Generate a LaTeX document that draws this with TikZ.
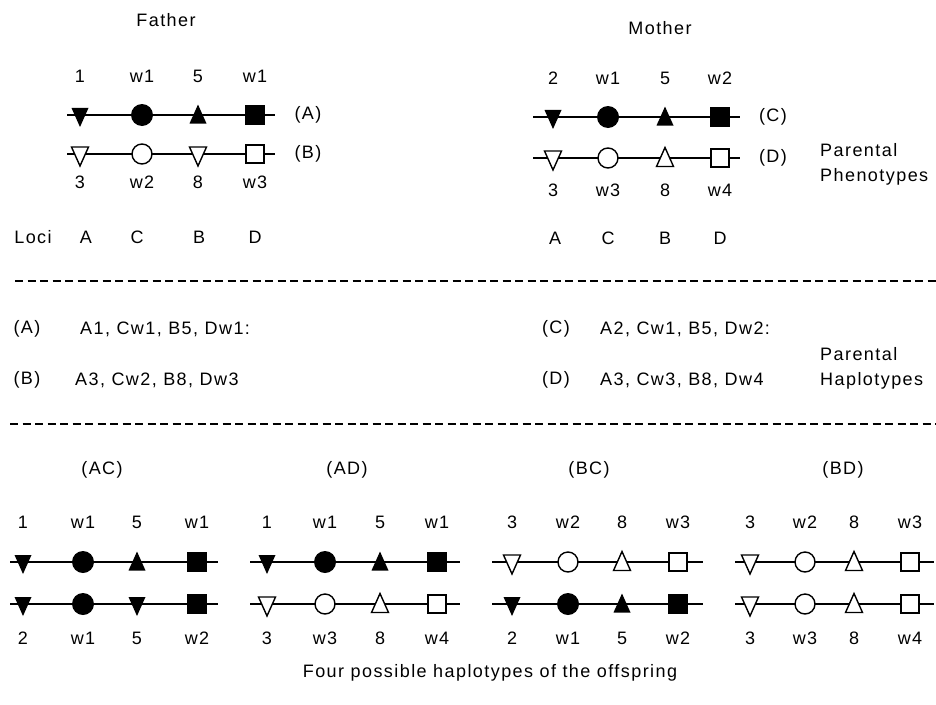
\documentclass[tikz,border=0pt]{standalone}
\usepackage{fontspec}
\setmainfont{Liberation Sans}[LetterSpace=8]
\usepackage{tikz}
\usetikzlibrary{positioning, shapes, calc}

%% one chromosome: name, y, x start, x end, symbols (x/style), line style
\newcommand{\chromo}[6]{%
  \coordinate (#1s) at (#3,#2);
  \coordinate (#1e) at (#4,#2);
  \draw[#6] (#1s) -- (#1e);
  \foreach \x/\s [count=\i] in {#5} \node[\s] (#1\i) at (\x,#2) {};
}
%% one row of labels: name, y, labels (x/text)
\newcommand{\labrow}[3]{%
  \foreach \x/\t [count=\i] in {#3} \node[lab] (#1\i) at (\x,#2) {\t};
}

\begin{document}
\begin{tikzpicture}[x=1pt, y=-1pt]
		\tikzstyle{lab}=[inner sep=0pt, text=black, font=\fontsize{18}{25}\selectfont]
		\tikzstyle{thk}=[line width=2.8pt]
		\tikzstyle{thn}=[line width=1.6pt]
		\tikzstyle{sep}=[line width=2pt, dash pattern=on 8pt off 4.5pt]
		
		\tikzstyle{cf}=[circle, fill=black, minimum size=22pt, inner sep=0pt]
		\tikzstyle{co}=[circle, draw=black, line width=1.4pt, fill=white, minimum size=20pt, inner sep=0pt]
		\tikzstyle{sf}=[rectangle, fill=black, minimum size=20pt, inner sep=0pt]
		\tikzstyle{so}=[rectangle, draw=black, line width=1.4pt, fill=white, minimum size=18pt, inner sep=0pt]
		\tikzstyle{tri}=[isosceles triangle, isosceles triangle stretches, minimum width=17pt, minimum height=19pt, inner sep=0pt]
		\tikzstyle{tuf}=[tri, shape border rotate=90, fill=black, yshift=-3pt]
		\tikzstyle{tdf}=[tri, shape border rotate=270, fill=black, yshift=1.5pt]
		\tikzstyle{tuo}=[tri, shape border rotate=90, draw=black, line width=1.4pt, fill=white, yshift=-3pt]
		\tikzstyle{tdo}=[tri, shape border rotate=270, draw=black, line width=1.4pt, fill=white, yshift=1.5pt]
		
		\useasboundingbox (0,0) rectangle (936,704);
		
		%% parents
		\node[lab] (father) at (166,20) {Father};
		\node[lab] (mother) at (660,28) {Mother};
		
		\labrow{ftop}{76}{80/1,142/w1,198/5,255/w1}
		\chromo{fA}{115}{67}{275}{80/tdf,142/cf,198/tuf,255/sf}{thk}
		\chromo{fB}{154}{67}{275}{80/tdo,142/co,198/tdo,255/so}{thn}
		\labrow{fbot}{182}{80/3,142/w2,198/8,255/w3}
		\node[lab] (hA) at (308,115) {(A)};
		\node[lab] (hB) at (308,154) {(B)};
		\node[lab] (loci) at (33,237) {Loci};
		\labrow{floc}{237}{86/A,137/C,199/B,255/D}
		
		\labrow{mtop}{78}{553/2,608/w1,665/5,720/w2}
		\chromo{mC}{117}{533}{740}{553/tdf,608/cf,665/tuf,720/sf}{thk}
		\chromo{mD}{158}{533}{740}{553/tdo,608/co,665/tuo,720/so}{thn}
		\labrow{mbot}{190}{553/3,608/w3,665/8,720/w4}
		\node[lab] (hC) at (773,117) {(C)};
		\node[lab] (hD) at (773,158) {(D)};
		\labrow{mloc}{238}{555/A,608/C,665/B,720/D}
		\node[lab, anchor=west, align=left] (pheno) at (820,164) {Parental\\Phenotypes};
		
		\coordinate (s1a) at (15,281);
		\coordinate (s1b) at (936,281);
		\draw[sep] (s1a) -- (s1b);
		
		%% haplotypes
		\node[lab] (tA) at (27,329) {(A)};
		\node[lab, anchor=west] (xA) at (80,329) {A1, Cw1, B5, Dw1:};
		\node[lab] (tB) at (27,380) {(B)};
		\node[lab, anchor=west] (xB) at (75,380) {A3, Cw2, B8, Dw3};
		\node[lab] (tC) at (556,329) {(C)};
		\node[lab, anchor=west] (xC) at (600,329) {A2, Cw1, B5, Dw2:};
		\node[lab] (tD) at (556,380) {(D)};
		\node[lab, anchor=west] (xD) at (600,380) {A3, Cw3, B8, Dw4};
		\node[lab, anchor=west, align=left] (haplo) at (820,368) {Parental\\Haplotypes};
		
		\coordinate (s2a) at (10,424);
		\coordinate (s2b) at (936,424);
		\draw[sep] (s2a) -- (s2b);
		
		%% offspring
		\node[lab] (oAC) at (102,470) {(AC)};
		\labrow{ACt}{522}{23/1,83/w1,137/5,197/w1}
		\chromo{ACa}{562}{10}{218}{23/tdf,83/cf,137/tuf,197/sf}{thk}
		\chromo{ACb}{604}{10}{218}{23/tdf,83/cf,137/tdf,197/sf}{thk}
		\labrow{ACd}{638}{23/2,83/w1,137/5,197/w2}
		
		\node[lab] (oAD) at (347,470) {(AD)};
		\labrow{ADt}{522}{267/1,325/w1,380/5,437/w1}
		\chromo{ADa}{562}{250}{460}{267/tdf,325/cf,380/tuf,437/sf}{thk}
		\chromo{ADb}{604}{250}{460}{267/tdo,325/co,380/tuo,437/so}{thn}
		\labrow{ADd}{638}{267/3,325/w3,380/8,437/w4}
		
		\node[lab] (oBC) at (589,470) {(BC)};
		\labrow{BCt}{522}{512/3,568/w2,622/8,678/w3}
		\chromo{BCa}{562}{492}{703}{512/tdo,568/co,622/tuo,678/so}{thn}
		\chromo{BCb}{604}{492}{703}{512/tdf,568/cf,622/tuf,678/sf}{thk}
		\labrow{BCd}{638}{512/2,568/w1,622/5,678/w2}
		
		\node[lab] (oBD) at (843,470) {(BD)};
		\labrow{BDt}{522}{750/3,805/w2,854/8,910/w3}
		\chromo{BDa}{562}{735}{934}{750/tdo,805/co,854/tuo,910/so}{thn}
		\chromo{BDb}{604}{735}{934}{750/tdo,805/co,854/tuo,910/so}{thn}
		\labrow{BDd}{638}{750/3,805/w3,854/8,910/w4}
		
		\node[lab] (caption) at (490,673) {Four possible haplotypes of the offspring};
\end{tikzpicture}
\end{document}
